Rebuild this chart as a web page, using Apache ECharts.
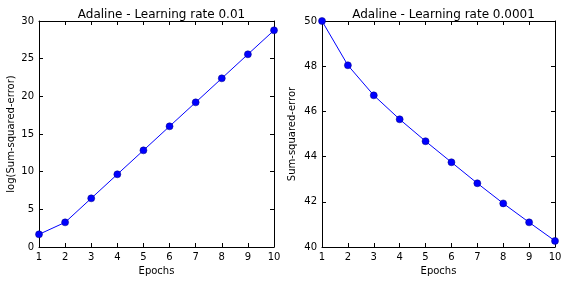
<!DOCTYPE html>
<html><head><meta charset="utf-8">
<script src="https://cdn.jsdelivr.net/npm/echarts@6/dist/echarts.min.js"></script>
<style>html,body{margin:0;padding:0;background:#fff}#c{width:569px;height:283px}</style>
</head><body><div id="c"></div>
<script>
const epochs = [1,2,3,4,5,6,7,8,9,10];
const logSse = [1.68,3.27,6.46,9.65,12.83,16.02,19.2,22.39,25.58,28.76];
const sse = [50.0,48.04,46.71,45.65,44.68,43.75,42.82,41.93,41.09,40.27];
const titles = ['Adaline - Learning rate 0.01','Adaline - Learning rate 0.0001'];
const yNames = ['log(Sum-squared-error)','Sum-squared-error'];
const xName = 'Epochs';

const font = 'DejaVu Sans';
const chart = echarts.init(document.getElementById('c'), null, {renderer:'canvas'});
const grids = [
  {left:39, top:21, width:235, height:226},
  {left:322, top:21, width:233, height:226}
];
const yRanges = [{min:0,max:30,interval:5},{min:40,max:50,interval:2}];
const lineAx = {show:true, onZero:false, lineStyle:{color:'#000', width:1}};
const tick = {show:true, inside:true, length:4, lineStyle:{color:'#000', width:1}};
const xAxis = [], yAxis = [], series = [];
[0,1].forEach(i=>{
  xAxis.push({type:'value', gridIndex:i, min:1, max:10, interval:1, position:'bottom',
    name:xName, nameLocation:'middle', nameGap:18, nameTextStyle:{fontFamily:font,fontSize:10,color:'#000'},
    axisLine:lineAx, axisTick:tick, splitLine:{show:false},
    axisLabel:{fontFamily:font,fontSize:10,color:'#000',margin:5}});
  xAxis.push({type:'value', gridIndex:i, min:1, max:10, interval:1, position:'top',
    axisLine:lineAx, axisTick:tick, splitLine:{show:false}, axisLabel:{show:false}});
  yAxis.push(Object.assign({type:'value', gridIndex:i, position:'left',
    name:yNames[i], nameLocation:'middle', nameGap:i===0?23:25, nameRotate:90,
    nameTextStyle:{fontFamily:font,fontSize:10,color:'#000'},
    axisLine:lineAx, axisTick:tick, splitLine:{show:false},
    axisLabel:{fontFamily:font,fontSize:10,color:'#000',margin:5}}, yRanges[i]));
  yAxis.push(Object.assign({type:'value', gridIndex:i, position:'right',
    axisLine:lineAx, axisTick:tick, splitLine:{show:false}, axisLabel:{show:false}}, yRanges[i]));
  const vals = i===0 ? logSse : sse;
  series.push({type:'line', xAxisIndex:i*2, yAxisIndex:i*2,
    data: epochs.map((e,k)=>[e, vals[k]]),
    symbol:'circle', symbolSize:7, showAllSymbol:true, clip:false,
    lineStyle:{color:'#0000ff', width:1},
    itemStyle:{color:'#0000ff', borderColor:'#000080', borderWidth:0.5},
    animation:false, silent:true});
});
chart.setOption({
  animation:false,
  title: titles.map((t,i)=>({text:t, left: grids[i].left + grids[i].width/2, top:4, textAlign:'center',
    textStyle:{fontFamily:font,fontSize:12,fontWeight:'normal',color:'#000'}})),
  grid: grids,
  xAxis, yAxis, series
});
</script></body></html>
